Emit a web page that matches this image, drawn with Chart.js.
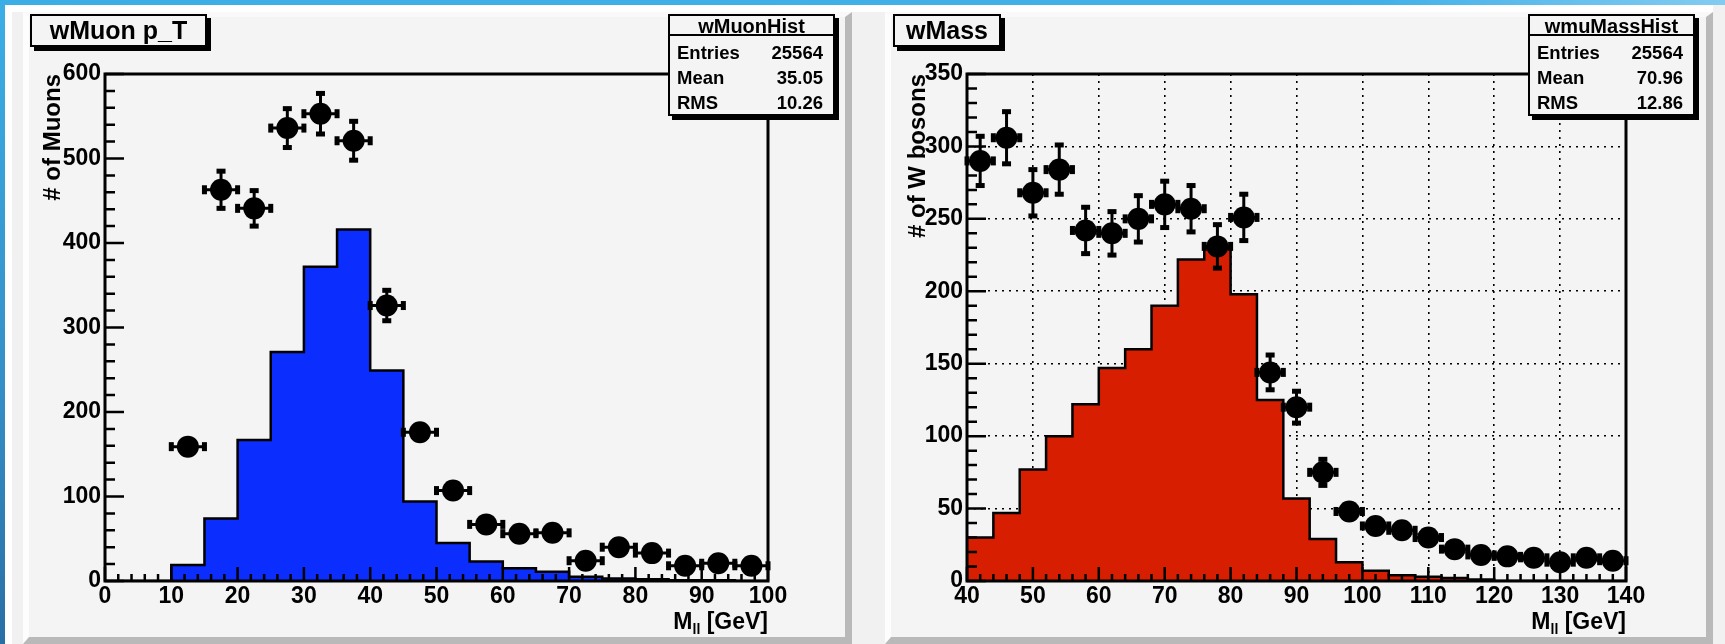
<!DOCTYPE html>
<html lang="en">
<head>
  <meta charset="UTF-8">
  <title>wMuon p_T / wMass</title>
  <script src="https://cdn.jsdelivr.net/npm/chart.js@4.4.1/dist/chart.umd.min.js"></script>
  <style>
    body { margin: 0; background: #f1f1f1; }
    #stage {
      position: relative; width: 1725px; height: 644px; overflow: hidden;
      background: #f1f1f1; font-family: 'Liberation Sans', Arial, sans-serif;
    }
    .stripTop { position: absolute; left: 0; top: 0; width: 1725px; height: 5px;
      background: linear-gradient(to right, #3caee6 0%, #42b1e8 80%, #82cbf1 100%); }
    .stripLeft { position: absolute; left: 0; top: 0; width: 5px; height: 644px;
      background: linear-gradient(to bottom, #3caee6 0%, #348fc6 60%, #2a6ea6 100%); }
    .hiTop { position: absolute; left: 5px; top: 5px; width: 1708px; height: 7px; background: #fff; }
    .hiLeft { position: absolute; left: 5px; top: 5px; width: 7px; height: 639px; background: #fff; }
    .pad {
      position: absolute; top: 12px; height: 632px; box-sizing: border-box; background: #f4f4f4;
      border-left: 6px solid #fdfdfd; border-top: 5px solid #f9f9f9;
      border-right: 7px solid #b9b9b9; border-bottom: 7px solid #b9b9b9;
    }
    canvas { position: absolute; }
    .htitle {
      position: absolute; top: 14px; height: 33px; box-sizing: border-box;
      border: 2px solid #000; background: #f4f4f4; box-shadow: 4px 4px 0 #000;
      text-align: center; font: bold 25px/29px 'Liberation Sans', Arial, sans-serif; color: #000;
    }
    .stats {
      position: absolute; top: 14px; width: 167px; height: 102px; box-sizing: border-box;
      border: 2px solid #000; background: #f4f4f4; box-shadow: 4px 4px 0 #000; color: #000;
    }
    .sttl { height: 18px; border-bottom: 2px solid #000; text-align: center;
      font: bold 20px/21px 'Liberation Sans', Arial, sans-serif; }
    .srows { padding-top: 4px; }
    .srow { display: flex; justify-content: space-between; padding: 0 10px 0 7px; height: 25px;
      font: bold 18.5px/25px 'Liberation Sans', Arial, sans-serif; }
  </style>
</head>
<body>
<div id="stage">
  <div class="stripTop"></div>
  <div class="stripLeft"></div>
  <div class="hiTop"></div>
  <div class="hiLeft"></div>
  <div class="pad" style="left:23px; width:829px;"></div>
  <div class="pad" style="left:885px; width:828px;"></div>
  <canvas id="ptChart" width="817" height="620" style="left:28px; top:17px;"></canvas>
  <canvas id="massChart" width="816" height="620" style="left:890px; top:17px;"></canvas>
  <div class="htitle" style="left:30px; width:177px;">wMuon p_T</div>
  <div class="htitle" style="left:893px; width:108px;">wMass</div>
  <div class="stats" id="ptStats" style="left:668px;"></div>
  <div class="stats" id="massStats" style="left:1528px;"></div>
</div>

<script>
  const FONT = "'Liberation Sans', Arial, Helvetica, sans-serif";

  // wMuon p_T, 5 GeV bins
  const ptBinEdges = [0, 5, 10, 15, 20, 25, 30, 35, 40, 45, 50, 55, 60, 65, 70, 75, 80, 85, 90, 95, 100];
  const ptHistCounts = [0, 0, 19, 74, 167, 271, 372, 416, 249, 94, 45, 23, 15, 11, 5, 3, 2, 1, 1, 0];
  const ptDataCounts = [null, null, 159, 463, 441, 536, 553, 521, 326, 176, 107, 67, 56, 57, 24, 40, 33, 18, 21, 18];
  const ptDataErrors = [null, null, 13, 22, 21, 23, 24, 23, 18, 13, 10, 8, 7, 8, 5, 6, 6, 4, 5, 4];
  const ptXTicks = [0, 10, 20, 30, 40, 50, 60, 70, 80, 90, 100];
  const ptYTicks = [0, 100, 200, 300, 400, 500, 600];
  const ptStats = [['Entries', '25564'], ['Mean', '35.05'], ['RMS', '10.26']];

  // wMass, 4 GeV bins
  const massBinEdges = [40, 44, 48, 52, 56, 60, 64, 68, 72, 76, 80, 84, 88, 92, 96, 100,
                        104, 108, 112, 116, 120, 124, 128, 132, 136, 140];
  const massHistCounts = [30, 47, 77, 100, 122, 147, 160, 190, 222, 230, 198, 125, 57, 29, 13,
                          7, 4, 3, 2, 1, 0, 0, 0, 0, 0];
  const massDataCounts = [290, 306, 268, 284, 242, 240, 250, 260, 257, 231, 251, 144, 120, 75, 48,
                          38, 35, 30, 22, 18, 17, 16, 13, 16, 14];
  const massDataErrors = [17, 18, 16, 17, 16, 15, 16, 16, 16, 15, 16, 12, 11, 9, 7,
                          6, 6, 5, 5, 4, 4, 4, 4, 4, 4];
  const massXTicks = [40, 50, 60, 70, 80, 90, 100, 110, 120, 130, 140];
  const massYTicks = [0, 50, 100, 150, 200, 250, 300, 350];
  const massStats = [['Entries', '25564'], ['Mean', '70.96'], ['RMS', '12.86']];

  const xTitleParts = ['M', 'll', ' [GeV]'];

  function fillStats(id, name, rows) {
    const box = document.getElementById(id);
    const t = document.createElement('div');
    t.className = 'sttl';
    t.textContent = name;
    box.appendChild(t);
    const wrap = document.createElement('div');
    wrap.className = 'srows';
    rows.forEach(r => {
      const row = document.createElement('div');
      row.className = 'srow';
      row.innerHTML = '<span>' + r[0] + '</span><span>' + r[1] + '</span>';
      wrap.appendChild(row);
    });
    box.appendChild(wrap);
  }
  fillStats('ptStats', 'wMuonHist', ptStats);
  fillStats('massStats', 'wmuMassHist', massStats);

  // ROOT style frame, inside ticks, error bars and the x title
  const rootFrame = {
    id: 'rootFrame',
    beforeDatasetDraw(chart, args) {
      const ds = chart.data.datasets[args.index];
      if (!ds.errorBars) return;
      const ctx = chart.ctx;
      const xs = chart.scales.x, ys = chart.scales.y;
      const r = ds.pointRadius;
      ctx.save();
      ctx.fillStyle = '#000';
      ctx.strokeStyle = '#000';
      ctx.lineWidth = 3;
      ds.data.forEach(p => {
        const cx = xs.getPixelForValue(p.x), cy = ys.getPixelForValue(p.y);
        const xl = xs.getPixelForValue(p.lo), xr = xs.getPixelForValue(p.hi);
        ctx.beginPath();
        ctx.moveTo(xl, cy); ctx.lineTo(xr, cy);
        ctx.stroke();
        ctx.fillRect(xl - 2.5, cy - 4.5, 5, 9);
        ctx.fillRect(xr - 2.5, cy - 4.5, 5, 9);
        const yt = ys.getPixelForValue(p.y + p.err), yb = ys.getPixelForValue(p.y - p.err);
        if (cy - yt > r) {
          ctx.beginPath();
          ctx.moveTo(cx, yt); ctx.lineTo(cx, yb);
          ctx.stroke();
          ctx.fillRect(cx - 4.5, yt - 2.5, 9, 5);
          ctx.fillRect(cx - 4.5, yb - 2.5, 9, 5);
        }
      });
      ctx.restore();
    },
    afterDatasetsDraw(chart, args, opts) {
      const ctx = chart.ctx;
      const {left, right, top, bottom} = chart.chartArea;
      const xs = chart.scales.x, ys = chart.scales.y;
      ctx.save();
      ctx.strokeStyle = '#000';
      ctx.lineWidth = 3;
      ctx.strokeRect(left, top, right - left, bottom - top);

      ctx.lineWidth = 2.5;
      ctx.beginPath();
      let n = 0;
      for (let v = xs.min; v <= xs.max + 1e-6; v += opts.xMinor, n++) {
        const px = xs.getPixelForValue(v);
        const len = n % opts.xEvery === 0 ? 14 : 7;
        ctx.moveTo(px, bottom); ctx.lineTo(px, bottom - len);
      }
      n = 0;
      for (let v = ys.min; v <= ys.max + 1e-6; v += opts.yMinor, n++) {
        const py = ys.getPixelForValue(v);
        const len = n % opts.yEvery === 0 ? 19 : 10;
        ctx.moveTo(left, py); ctx.lineTo(left + len, py);
      }
      ctx.stroke();

      // x axis title with subscript
      const big = 'bold 23px ' + FONT, small = 'bold 14px ' + FONT;
      ctx.fillStyle = '#000';
      ctx.textBaseline = 'alphabetic';
      ctx.textAlign = 'left';
      ctx.font = big;
      const w0 = ctx.measureText(xTitleParts[0]).width;
      const w2 = ctx.measureText(xTitleParts[2]).width;
      ctx.font = small;
      const w1 = ctx.measureText(xTitleParts[1]).width;
      const base = bottom + 48;
      let x = right - (w0 + w1 + w2);
      ctx.font = big;
      ctx.fillText(xTitleParts[0], x, base);
      x += w0;
      ctx.font = small;
      ctx.fillText(xTitleParts[1], x, base + 5);
      x += w1;
      ctx.font = big;
      ctx.fillText(xTitleParts[2], x, base);
      ctx.restore();
    }
  };

  function makeChart(id, cfg) {
    const points = [];
    cfg.data.forEach((y, i) => {
      if (y === null) return;
      const lo = cfg.edges[i], hi = cfg.edges[i + 1];
      points.push({x: (lo + hi) / 2, y: y, lo: lo, hi: hi, err: cfg.errors[i]});
    });
    const hist = cfg.edges.map((x, i) => ({x: x, y: i < cfg.hist.length ? cfg.hist[i] : 0}));
    const tickFont = {family: FONT, size: 23, weight: 'bold'};

    return new Chart(document.getElementById(id), {
      type: 'scatter',
      data: {
        datasets: [
          {
            label: 'data',
            order: 0,
            data: points,
            errorBars: true,
            pointRadius: 11,
            pointHoverRadius: 11,
            backgroundColor: '#000',
            borderWidth: 0,
            clip: false
          },
          {
            type: 'line',
            label: 'hist',
            order: 1,
            data: hist,
            stepped: 'before',
            fill: 'origin',
            backgroundColor: cfg.fill,
            borderColor: '#000',
            borderWidth: 2.5,
            pointRadius: 0,
            tension: 0
          }
        ]
      },
      options: {
        responsive: false,
        animation: false,
        events: [],
        layout: {padding: {top: 57, right: cfg.padRight, left: 0, bottom: 0}},
        plugins: {
          legend: {display: false},
          tooltip: {enabled: false},
          rootFrame: {xMinor: cfg.xMinor, xEvery: cfg.xEvery, yMinor: cfg.yMinor, yEvery: cfg.yEvery}
        },
        scales: {
          x: {
            type: 'linear',
            min: cfg.xTicks[0],
            max: cfg.xTicks[cfg.xTicks.length - 1],
            afterBuildTicks: s => { s.ticks = cfg.xTicks.map(v => ({value: v})); },
            afterFit: s => { s.height = 56; },
            grid: {display: cfg.grid, drawTicks: false, color: '#000', lineWidth: 1.6},
            border: {display: false, dash: [2, 5]},
            ticks: {font: tickFont, color: '#000', padding: 2, maxRotation: 0, autoSkip: false,
                    callback: v => String(v)}
          },
          y: {
            type: 'linear',
            min: cfg.yTicks[0],
            max: cfg.yTicks[cfg.yTicks.length - 1],
            afterBuildTicks: s => { s.ticks = cfg.yTicks.map(v => ({value: v})); },
            afterFit: s => { s.width = 77; },
            grid: {display: cfg.grid, drawTicks: false, color: '#000', lineWidth: 1.6},
            border: {display: false, dash: [2, 5]},
            ticks: {font: tickFont, color: '#000', padding: 4, autoSkip: false,
                    callback: v => String(v)},
            title: {display: true, text: cfg.yTitle, align: 'end', color: '#000',
                    font: {family: FONT, size: 24, weight: 'bold'},
                    padding: {top: cfg.yTitlePad, bottom: 0}}
          }
        }
      },
      plugins: [rootFrame]
    });
  }

  makeChart('ptChart', {
    edges: ptBinEdges, hist: ptHistCounts, data: ptDataCounts, errors: ptDataErrors,
    xTicks: ptXTicks, yTicks: ptYTicks, fill: '#0b2dfe', grid: false,
    xMinor: 2, xEvery: 5, yMinor: 20, yEvery: 5,
    yTitle: '# of Muons', yTitlePad: 11, padRight: 77
  });

  makeChart('massChart', {
    edges: massBinEdges, hist: massHistCounts, data: massDataCounts, errors: massDataErrors,
    xTicks: massXTicks, yTicks: massYTicks, fill: '#d81e00', grid: true,
    xMinor: 2, xEvery: 5, yMinor: 10, yEvery: 5,
    yTitle: '# of W bosons', yTitlePad: 14, padRight: 80
  });
</script>
</body>
</html>
